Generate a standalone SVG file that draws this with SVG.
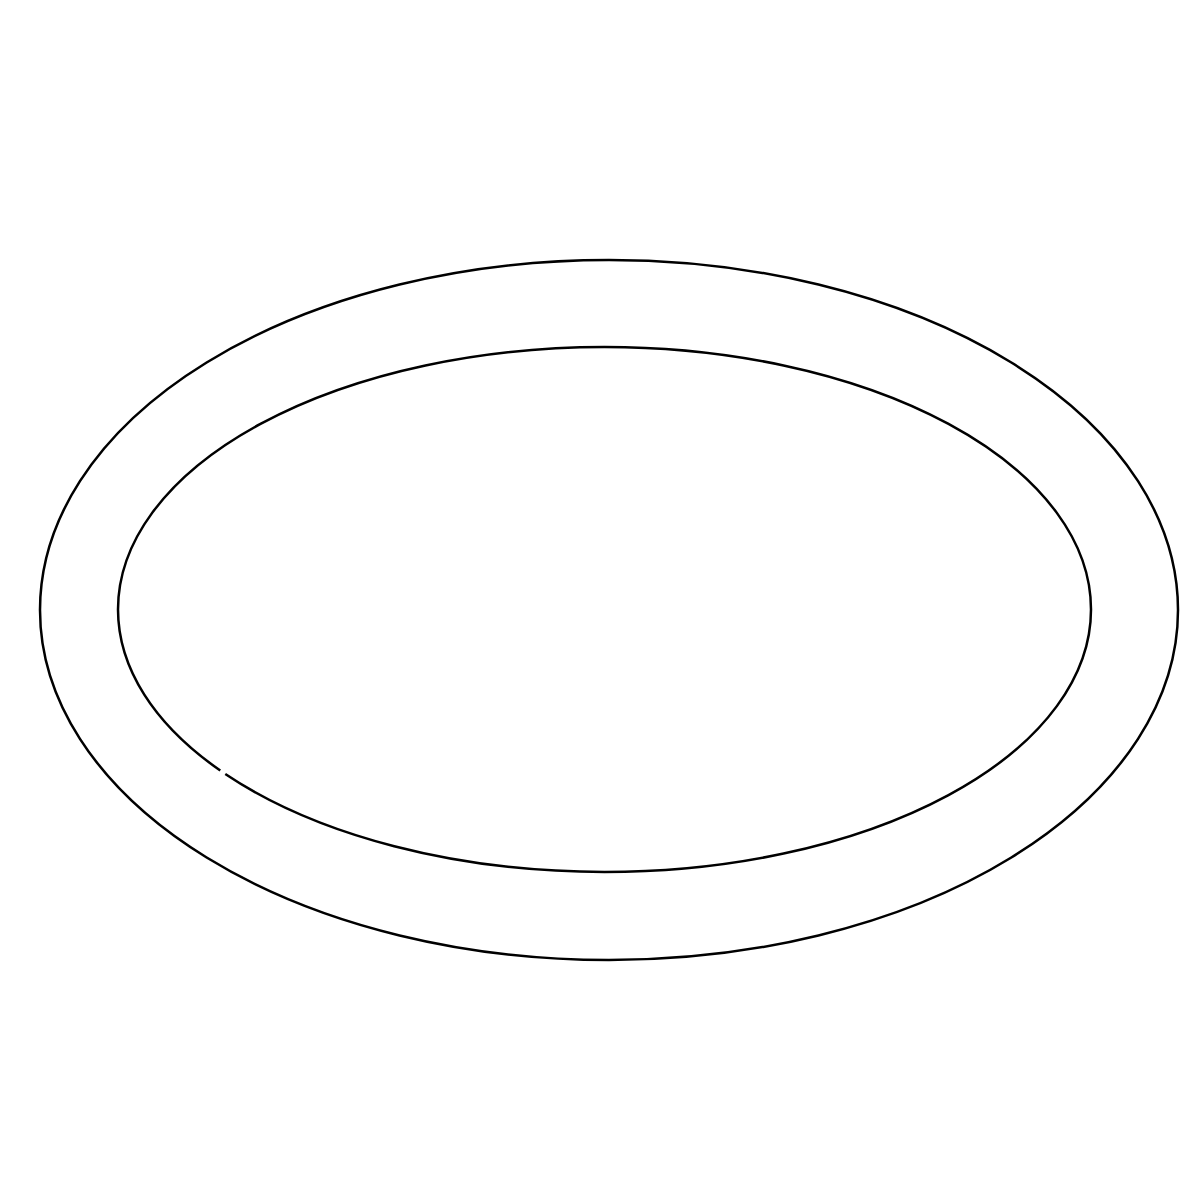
<svg xmlns="http://www.w3.org/2000/svg" width="1200" height="1200" viewBox="0 0 1200 1200">
<style>.l{fill:none;stroke:#000;stroke-width:2.5}</style>
<rect width="1200" height="1200" fill="#fff"/>
<g id="outer"><ellipse class="l" cx="609" cy="610" rx="569" ry="350"/></g>
<g id="inner"><ellipse class="l" cx="604.5" cy="609.5" rx="486.5" ry="262.5" pathLength="1000" stroke-dasharray="415 2.5 582.5"/></g>
</svg>
